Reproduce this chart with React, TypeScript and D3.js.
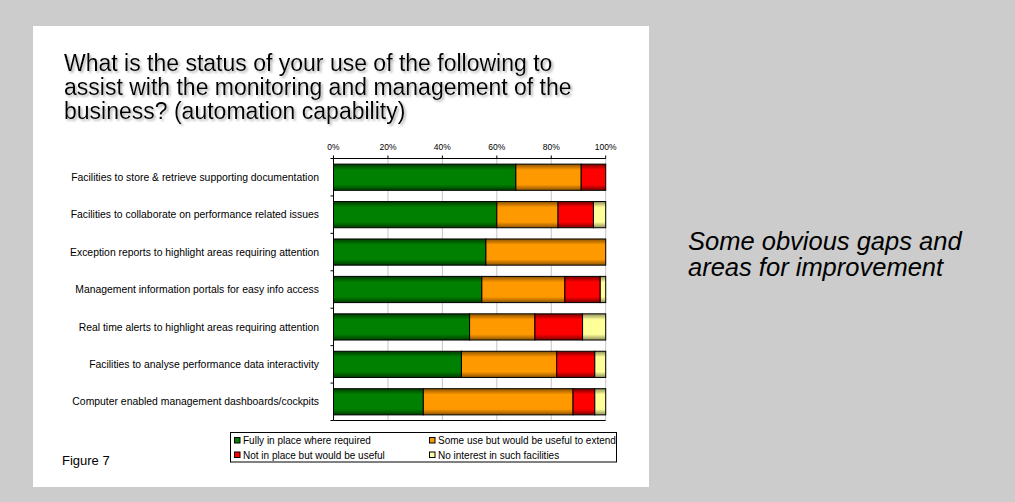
import React from "react";
import * as d3 from "d3";

const categories = [
  "Facilities to store & retrieve supporting documentation",
  "Facilities to collaborate on performance related issues",
  "Exception reports to highlight areas requiring attention",
  "Management information portals for easy info access",
  "Real time alerts to highlight areas requiring attention",
  "Facilities to analyse performance data interactivity",
  "Computer enabled management dashboards/cockpits",
];

const fullyInPlace = [67, 60, 56, 54.5, 50, 47, 33];
const someUse = [24, 22.5, 44, 30.5, 24, 35, 55];
const notInPlace = [9, 13, 0, 13, 17.5, 14, 8];
const noInterest = [0, 4.5, 0, 2, 8.5, 4, 4];

const seriesNames = [
  "Fully in place where required",
  "Some use but would be useful to extend",
  "Not in place but would be useful",
  "No interest in such facilities",
];

const tickValues = [0, 20, 40, 60, 80, 100];

const titleLines = [
  "What is the status of your use of the following to",
  "assist with the monitoring and management of the",
  "business? (automation capability)",
];

const noteLines = ["Some obvious gaps and", "areas for improvement"];

const seriesColors = [
  { base: "#008000", edge: "#003c00" },
  { base: "#ff9900", edge: "#8a5200" },
  { base: "#ff0000", edge: "#7a0000" },
  { base: "#ffff99", edge: "#8f8f5a" },
];

const FONT = "Arial, 'Liberation Sans', Helvetica, sans-serif";

export default function App() {
  const W = 1015;
  const H = 502;

  const plotLeft = 333.5;
  const plotRight = 605.7;
  const plotTop = 158.5;
  const plotBottom = 420.5;

  const x = d3.scaleLinear().domain([0, 100]).range([plotLeft, plotRight]);
  const y = d3
    .scaleBand<string>()
    .domain(categories)
    .range([plotTop, plotBottom])
    .paddingInner(0.3)
    .paddingOuter(0.15);

  const rows = categories.map((c, i) => ({
    cat: c,
    s0: fullyInPlace[i],
    s1: someUse[i],
    s2: notInPlace[i],
    s3: noInterest[i],
  }));
  const keys = ["s0", "s1", "s2", "s3"];
  const stacked = d3.stack<any>().keys(keys)(rows);

  const step = y.step();
  const boundaries = d3.range(categories.length + 1).map((k) => plotTop + k * step);

  return (
    <svg
      width={W}
      height={H}
      viewBox={`0 0 ${W} ${H}`}
      style={{ position: "absolute", left: 0, top: 0, display: "block" }}
      fontFamily={FONT}
    >
      <defs>
        {seriesColors.map((c, i) => (
          <linearGradient key={i} id={`grad${i}`} x1="0" y1="0" x2="0" y2="1">
            <stop offset="0%" stopColor={c.edge} />
            <stop offset="22%" stopColor={c.base} />
            <stop offset="78%" stopColor={c.base} />
            <stop offset="100%" stopColor={c.edge} />
          </linearGradient>
        ))}
        <filter id="titleShadow" x="-5%" y="-10%" width="110%" height="125%">
          <feDropShadow dx="1.8" dy="1.8" stdDeviation="0.8" floodColor="#9a9a9a" floodOpacity="0.75" />
        </filter>
      </defs>

      <rect x={0} y={0} width={W} height={H} fill="#cccccc" />
      <rect x={33} y={26} width={616} height={461} fill="#ffffff" />

      {/* title, one block with a soft drop shadow */}
      <text fontSize={23} fill="#000" filter="url(#titleShadow)">
        {titleLines.map((t, i) => (
          <tspan key={i} x={64} y={70.8 + i * 24.3}>
            {t}
          </tspan>
        ))}
      </text>

      {/* vertical gridlines */}
      {tickValues.map((v) => (
        <line
          key={"g" + v}
          x1={x(v)}
          x2={x(v)}
          y1={plotTop}
          y2={plotBottom}
          stroke="#c4c4c4"
          strokeWidth={1}
        />
      ))}

      {/* stacked bars */}
      {stacked.map((layer, si) => (
        <g key={si}>
          {layer.map((d: any, i: number) => {
            const w = x(d[1]) - x(d[0]);
            if (w <= 0) return null;
            return (
              <rect
                key={i}
                x={x(d[0])}
                y={y(categories[i])!}
                width={w}
                height={y.bandwidth()}
                fill={`url(#grad${si})`}
                stroke="#000"
                strokeWidth={1}
              />
            );
          })}
        </g>
      ))}

      {/* axes */}
      <line x1={plotLeft} x2={plotRight} y1={plotTop} y2={plotTop} stroke="#000" />
      <line x1={plotLeft} x2={plotRight} y1={plotBottom} y2={plotBottom} stroke="#000" />
      <line x1={plotLeft} x2={plotLeft} y1={plotTop} y2={plotBottom} stroke="#000" />
      {tickValues.map((v) => (
        <line key={"t" + v} x1={x(v)} x2={x(v)} y1={plotTop - 3} y2={plotTop} stroke="#000" />
      ))}
      {boundaries.map((b, k) => (
        <line key={"b" + k} x1={plotLeft - 3} x2={plotLeft} y1={b} y2={b} stroke="#000" />
      ))}
      {tickValues.map((v) => (
        <text
          key={"l" + v}
          x={x(v)}
          y={150}
          fontSize={8.5}
          textAnchor="middle"
          fill="#000"
        >
          {v}%
        </text>
      ))}

      {/* category labels */}
      {categories.map((c) => (
        <text
          key={c}
          x={319}
          y={y(c)! + y.bandwidth() / 2 + 3.6}
          fontSize={10.4}
          textAnchor="end"
          fill="#000"
        >
          {c}
        </text>
      ))}

      {/* legend */}
      <rect x={230.5} y={432.5} width={386} height={29.5} fill="#fff" stroke="#000" />
      {seriesNames.map((n, i) => {
        const col = i % 2;
        const row = Math.floor(i / 2);
        const sx = col === 0 ? 234.5 : 429.5;
        const cy = row === 0 ? 440.5 : 455;
        return (
          <g key={n}>
            <rect
              x={sx}
              y={cy - 3}
              width={5.5}
              height={5.5}
              fill={seriesColors[i].base}
              stroke="#000"
              strokeWidth={1}
            />
            <text x={sx + 8.5} y={cy + 3.5} fontSize={10} fill="#000">
              {n}
            </text>
          </g>
        );
      })}

      <text x={62} y={465} fontSize={13} fill="#000">
        Figure 7
      </text>

      <text fontSize={25.5} fontStyle="italic" fill="#000">
        {noteLines.map((t, i) => (
          <tspan key={i} x={688} y={250 + i * 26}>
            {t}
          </tspan>
        ))}
      </text>
    </svg>
  );
}
